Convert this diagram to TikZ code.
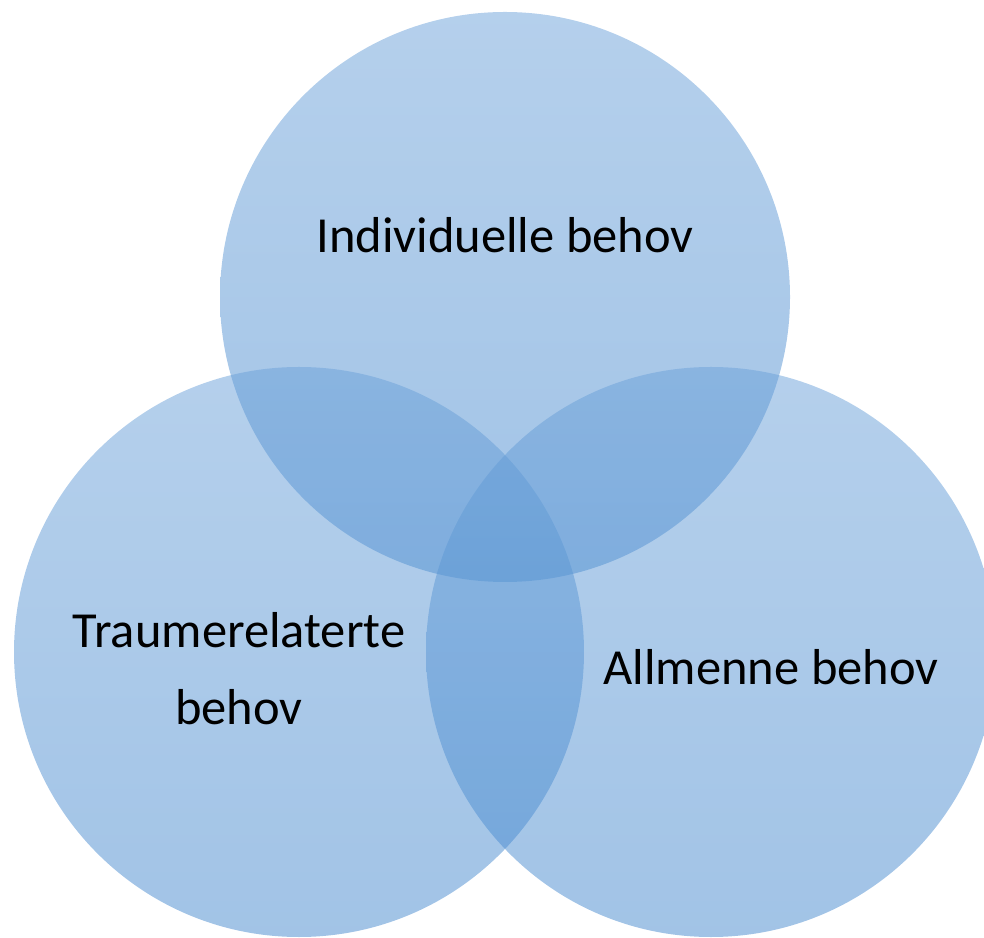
\documentclass[tikz,border=0pt]{standalone}
\usepackage{fontspec}
\setmainfont{Carlito}
\definecolor{vtop}{RGB}{107,161,217}
\definecolor{vbot}{RGB}{68,136,206}
\begin{document}
\begin{tikzpicture}[x=1pt,y=1pt,
  venn/.style={top color=vtop, bottom color=vbot, fill opacity=0.5, draw=none},
  lbl/.style={font=\fontsize{50.5}{77}\selectfont, text=black, inner sep=0pt, align=center}]
\useasboundingbox (0,0) rectangle (984,937);
\clip (0,0) rectangle (984,937);
\shade[venn] (505,640) circle (285);
\shade[venn] (299,285) circle (285);
\shade[venn] (711,285) circle (285);
\node[lbl, anchor=base] (ind) at (505,684) {Individuelle behov};
\node[lbl, anchor=center] (trau) at (239,268) {Traumerelaterte\\behov};
\node[lbl, anchor=base] (all) at (771,252) {Allmenne behov};
\end{tikzpicture}
\end{document}
